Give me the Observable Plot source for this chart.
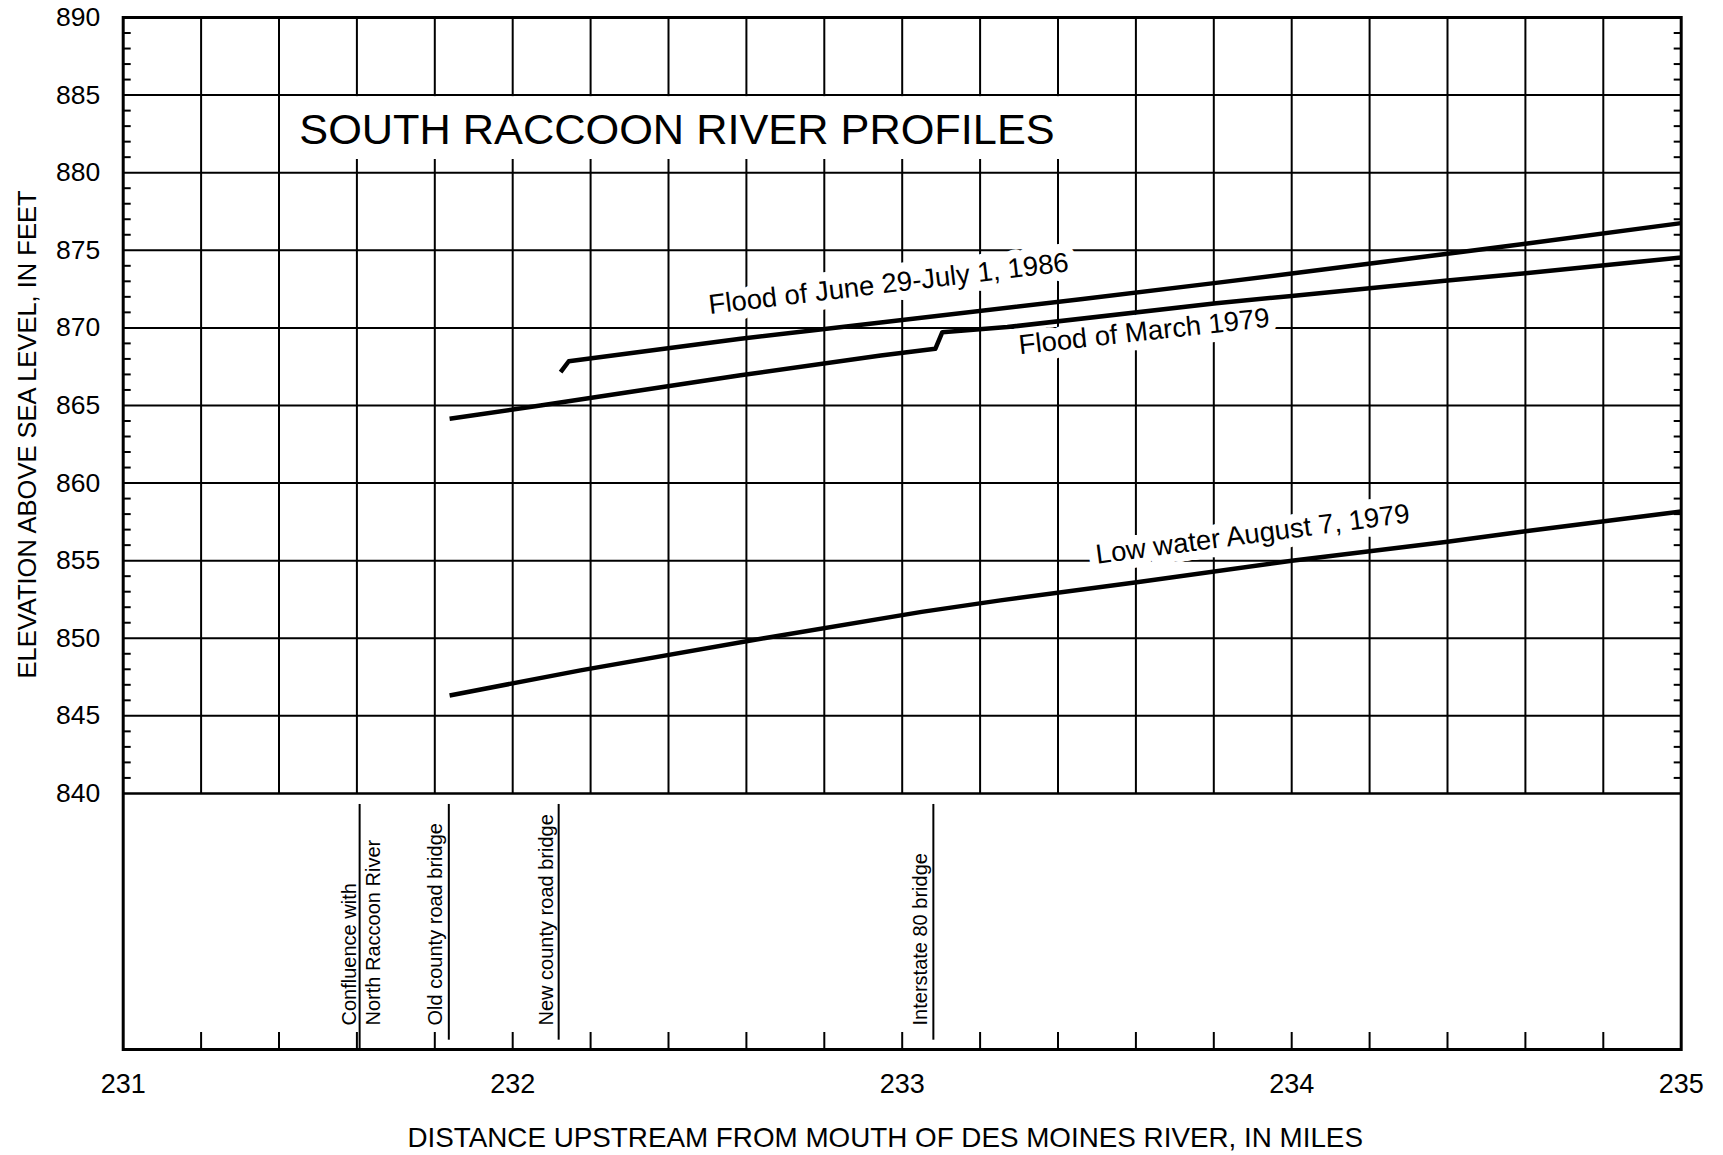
<!DOCTYPE html>
<html>
<head>
<meta charset="utf-8">
<script src="https://cdn.jsdelivr.net/npm/d3@7"></script>
<script src="https://cdn.jsdelivr.net/npm/@observablehq/plot@0.6"></script>
<style>
  html, body { margin: 0; padding: 0; background: #fff; }
</style>
</head>
<body>
<div id="chart"></div>
<script>
// ---- Data ----
const flood1986X = [232.123, 232.144, 232.585, 232.945, 233.458, 233.806, 234.0, 234.4, 234.6, 235.0];
const flood1986Y = [867.15, 867.85, 869.30, 870.35, 871.85, 872.90, 873.50, 874.78, 875.42, 876.75];

const flood1979X = [231.838, 232.071, 232.585, 232.945, 233.085, 233.103, 233.27, 233.806, 234.0, 234.4, 234.6, 235.0];
const flood1979Y = [864.14, 865.0, 866.95, 868.22, 868.65, 869.72, 870.05, 871.59, 872.06, 873.05, 873.52, 874.54];

const lowWaterX = [231.838, 232.174, 232.645, 233.05, 233.252, 233.607, 234.0, 234.4, 234.6, 235.0];
const lowWaterY = [846.31, 847.93, 850.0, 851.7, 852.44, 853.62, 855.0, 856.22, 856.9, 858.17];

const profileLabels = ["Flood of June 29-July 1, 1986", "Flood of March 1979", "Low water August 7, 1979"];
const profileLabelX = [232.965, 233.621, 233.90];
const profileLabelY = [872.84, 869.75, 856.70];

const landmarkNames = ["Confluence with North Raccoon River", "Old county road bridge", "New county road bridge", "Interstate 80 bridge"];
const landmarkX = [231.607, 231.836, 232.118, 233.080];

const xTickLabels = [231, 232, 233, 234, 235];
const yTickLabels = [840, 845, 850, 855, 860, 865, 870, 875, 880, 885, 890];
const yGridValues = [845, 850, 855, 860, 865, 870, 875, 880, 885];
const xGridValues = [231.2, 231.4, 231.6, 231.8, 232.0, 232.2, 232.4, 232.6, 232.8, 233.0, 233.2, 233.4, 233.6, 233.8, 234.0, 234.2, 234.4, 234.6, 234.8];
const yMinorTicks = [841, 842, 843, 844, 846, 847, 848, 849, 851, 852, 853, 854, 856, 857, 858, 859, 861, 862, 863, 864, 866, 867, 868, 869, 871, 872, 873, 874, 876, 877, 878, 879, 881, 882, 883, 884, 886, 887, 888, 889];

const chartTitle = "SOUTH RACCOON RIVER PROFILES";
const xTitle = "DISTANCE UPSTREAM FROM MOUTH OF DES MOINES RIVER, IN MILES";
const yTitle = "ELEVATION ABOVE SEA LEVEL, IN FEET";

// ---- Tables built from the arrays ----
const profiles = [
  ...flood1986X.map((x, i) => ({series: "1986", x, y: flood1986Y[i]})),
  ...flood1979X.map((x, i) => ({series: "1979", x, y: flood1979Y[i]})),
  ...lowWaterX.map((x, i) => ({series: "low", x, y: lowWaterY[i]}))
];
const labelRotate = [-6.8, -6.3, -7.5];
const labels = profileLabels.map((t, i) => ({text: t, x: profileLabelX[i], y: profileLabelY[i], r: labelRotate[i]}));

// layout of the lower landmark panel (y values below 840 are the panel area)
const panel = {top: 839.29, bottom: 823.5, bridgeBottom: 824.1, textBottom: 825.05};
const landmarks = landmarkX.map((x, i) => ({name: landmarkNames[i], x, y2: i === 0 ? panel.bottom : panel.bridgeBottom}));
const landmarkTexts = [
  {text: "Confluence with", x: landmarkX[0], dx: -4},
  {text: "North Raccoon River", x: landmarkX[0], dx: 20.5},
  {text: landmarkNames[1], x: landmarkX[1], dx: -7},
  {text: landmarkNames[2], x: landmarkX[2], dx: -6},
  {text: landmarkNames[3], x: landmarkX[3], dx: -6}
];
const titleBox = {x1: 231.417, x2: 233.47, y1: 880.85, y2: 884.9};

const font = "'Liberation Sans', Arial, Helvetica, sans-serif";

const landmarkTextMarks = landmarkTexts.map(d =>
  Plot.text([d], {x: "x", y: panel.textBottom, dx: d.dx, text: "text", rotate: -90, textAnchor: "start", lineAnchor: "bottom", fontSize: 20, fill: "black"})
);

const chart = Plot.plot({
  width: 1723,
  height: 1155,
  marginLeft: 122.7,
  marginRight: 42.3,
  marginTop: 17,
  marginBottom: 106,
  x: {domain: [231, 235]},
  y: {domain: [823.5, 890]},
  style: {fontFamily: font, color: "black", background: "white"},
  marks: [
    // grid
    Plot.ruleY(yGridValues, {stroke: "black", strokeWidth: 2}),
    Plot.ruleX(xGridValues, {y1: 840, y2: 890, stroke: "black", strokeWidth: 2}),
    Plot.ruleY([840], {stroke: "black", strokeWidth: 2.6}),
    // minor ticks on left / right edges, ticks on bottom edge
    Plot.tickY(yMinorTicks, {y: d => d, insetRight: 1550, stroke: "black", strokeWidth: 2}),
    Plot.tickY(yMinorTicks, {y: d => d, insetLeft: 1551, stroke: "black", strokeWidth: 2}),
    Plot.tickX(xGridValues, {x: d => d, insetTop: 1015, stroke: "black", strokeWidth: 2}),
    // white boxes behind texts
    Plot.rect([titleBox], {x1: "x1", x2: "x2", y1: "y1", y2: "y2", fill: "white"}),
    Plot.text(labels, {x: "x", y: "y", text: "text", rotate: "r", fontSize: 27.5, fill: "white", stroke: "white", strokeWidth: 18, strokeLinejoin: "round"}),
    // frame
    Plot.frame({stroke: "black", strokeWidth: 3}),
    // profiles
    Plot.line(profiles, {x: "x", y: "y", z: "series", stroke: "black", strokeWidth: 4.5, strokeLinejoin: "round", strokeLinecap: "butt"}),
    // landmark lines
    Plot.ruleX(landmarks, {x: "x", y1: panel.top, y2: "y2", stroke: "black", strokeWidth: 2}),
    ...landmarkTextMarks,
    // texts
    Plot.text(labels, {x: "x", y: "y", text: "text", rotate: "r", fontSize: 27.5, fill: "black"}),
    Plot.text([chartTitle], {x: titleBox.x1 + 0.035, y: 881.86, textAnchor: "start", lineAnchor: "bottom", fontSize: 43.3, fill: "black"}),
    // axes
    Plot.axisX(xTickLabels, {anchor: "bottom", tickSize: 0, tickPadding: 24, fontSize: 27, label: null, tickFormat: d => String(d)}),
    Plot.axisY(yTickLabels, {anchor: "left", tickSize: 0, tickPadding: 23, fontSize: 26.5, label: null, tickFormat: d => String(d)}),
    Plot.text([yTitle], {x: 231, y: 863.13, dx: -95.2, rotate: -90, textAnchor: "middle", lineAnchor: "middle", fontSize: 25.5, fill: "black"}),
    Plot.text([xTitle], {frameAnchor: "bottom", dx: -17, dy: 97, lineAnchor: "bottom", fontSize: 27.8, fill: "black"})
  ]
});

document.getElementById("chart").appendChild(chart);
</script>
</body>
</html>
